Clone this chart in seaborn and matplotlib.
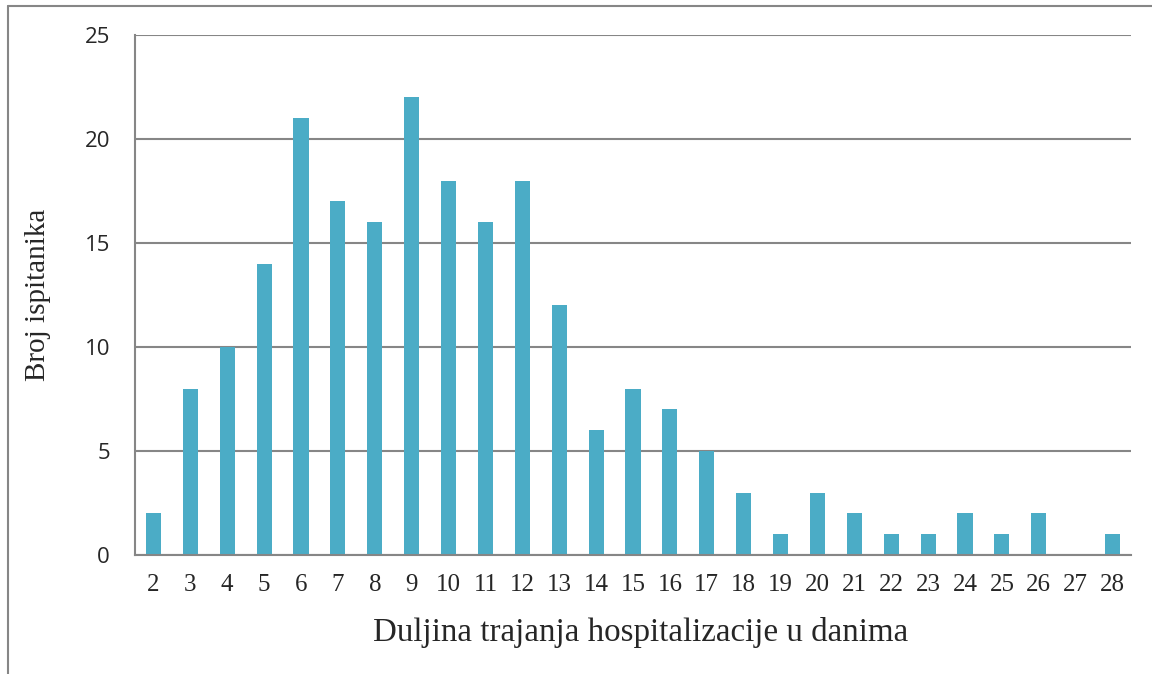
import matplotlib
matplotlib.use("Agg")
import matplotlib.pyplot as plt
import seaborn as sns
import numpy as np
import pandas as pd
from matplotlib.lines import Line2D

days = [str(d) for d in range(2, 29)]
counts = [2, 8, 10, 14, 21, 17, 16, 22, 18, 16, 18, 12, 6, 8, 7, 5, 3, 1, 3, 2, 1, 1, 2, 1, 2, 0, 1]
yticks = [0, 5, 10, 15, 20, 25]
xlabel = "Duljina trajanja hospitalizacije u danima"
ylabel = "Broj ispitanika"

sns.set_style("white")
plt.rcParams['font.family'] = ['Liberation Serif', 'DejaVu Serif']

grey = "#868686"
bar_color = "#4BACC6"

fig = plt.figure(figsize=(11.52, 6.74), dpi=100)
ax = fig.add_axes([135/1152, 1-555/674, (1131-135)/1152, (555-35)/674])

df = pd.DataFrame({"day": days, "count": counts})
sns.barplot(data=df, x="day", y="count", color=bar_color, width=0.41,
            saturation=1, ax=ax, edgecolor="none")

ax.set_ylim(0, 25)
ax.set_xlim(-0.5, len(days) - 0.5)
ax.set_yticks(yticks)
ax.set_yticklabels([str(v) for v in yticks], family=['Open Sans', 'DejaVu Sans'], fontsize=16)
ax.set_xticks(range(len(days)))
ax.set_xticklabels(days, fontsize=18)
ax.set_xticks(np.arange(-0.5, len(days), 1), minor=True)
ax.tick_params(axis='x', which='major', length=0, pad=14)
ax.tick_params(axis='x', which='minor', length=6, width=1.5, color=grey, direction='out')
ax.tick_params(axis='y', length=6, width=1.5, color=grey, direction='out', pad=12)

ax.yaxis.grid(True, color=grey, linewidth=1.5)
ax.set_axisbelow(True)
for s in ['top', 'right']:
    ax.spines[s].set_visible(False)
for s in ['left', 'bottom']:
    ax.spines[s].set_color(grey)
    ax.spines[s].set_linewidth(1.5)

ax.set_xlabel(xlabel, fontsize=23.8, labelpad=15)
ax.xaxis.label.set_x(0.508)
ax.set_ylabel(ylabel, fontsize=21, labelpad=24)

# outer frame (left and top)
fig.add_artist(Line2D([8/1152, 8/1152], [0, 1-6/674], transform=fig.transFigure, color=grey, linewidth=1.5))
fig.add_artist(Line2D([8/1152, 1], [1-6/674, 1-6/674], transform=fig.transFigure, color=grey, linewidth=1.5))

fig.savefig("out.png", dpi=100, facecolor="white")
